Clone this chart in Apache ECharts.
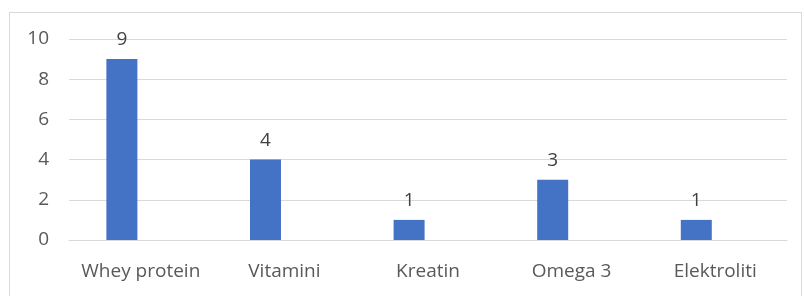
<!DOCTYPE html>
<html>
<head>
<meta charset="utf-8">
<script src="https://cdn.jsdelivr.net/npm/echarts@6/dist/echarts.min.js"></script>
<style>
  html, body { margin: 0; padding: 0; background: #fff; }
  #frame { position: absolute; left: 9px; top: 12px; width: 793px; height: 300px; border: 1px solid #d9d9d9; box-sizing: border-box; }
  #chart { position: absolute; left: 0; top: 0; width: 805px; height: 296px; }
</style>
</head>
<body>
<div id="frame"></div>
<div id="chart"></div>
<script>
// kategorije i vrijednosti
const categories = ['Whey protein', 'Vitamini', 'Kreatin', 'Omega 3', 'Elektroliti']
const values = [9, 4, 1, 3, 1]
const yTicks = { min: 0, max: 10, interval: 2 }

const chart = echarts.init(document.getElementById('chart'))
const option = {
  animation: false,
  textStyle: { fontFamily: 'Open Sans' },
  grid: { left: 69, right: 18, top: 39, bottom: 56 },
  xAxis: {
    type: 'category',
    data: categories,
    axisLine: { lineStyle: { color: '#d9d9d9' } },
    axisTick: { show: false },
    axisLabel: { color: '#595959', fontSize: 19, margin: 22, interval: 0 }
  },
  yAxis: {
    type: 'value',
    min: yTicks.min,
    max: yTicks.max,
    interval: yTicks.interval,
    axisLine: { show: false },
    axisTick: { show: false },
    axisLabel: { color: '#595959', fontSize: 19, margin: 20 },
    splitLine: { lineStyle: { color: '#d9d9d9' } }
  },
  series: [
    {
      type: 'bar',
      data: values,
      barWidth: 31,
      barGap: '22%',
      itemStyle: { color: '#4472c4' },
      label: { show: true, position: 'top', distance: 10, color: '#404040', fontSize: 19 }
    },
    {
      // prazna serija (pomak stupaca ulijevo kao u originalu)
      type: 'bar',
      data: categories.map(() => null),
      barWidth: 31,
      itemStyle: { color: '#ed7d31' }
    }
  ]
}
chart.setOption(option)
</script>
</body>
</html>
